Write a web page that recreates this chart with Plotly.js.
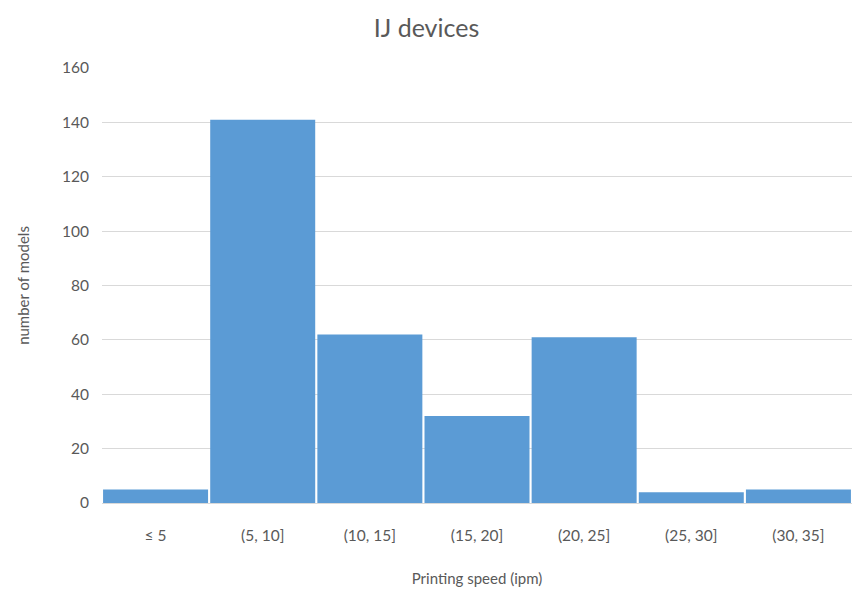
<!DOCTYPE html>
<html>
<head>
<meta charset="utf-8">
<script src="https://cdn.plot.ly/plotly-3.0.1.min.js"></script>
<style>
  html, body { margin: 0; padding: 0; background: #ffffff; }
  #chart { width: 853px; height: 592px; }
</style>
</head>
<body>
<div id="chart"></div>
<script>
// Printing speed bins (ipm) and number of inkjet models in each
const speedBins = ["≤ 5", "(5, 10]", "(10, 15]", "(15, 20]", "(20, 25]", "(25, 30]", "(30, 35]"];
const modelCounts = [5, 141, 62, 32, 61, 4, 5];
const yTickValues = [0, 20, 40, 60, 80, 100, 120, 140, 160];

const textGray = "#595959";
const fontFamily = "Lato, 'Open Sans', sans-serif";

const trace = {
  type: "bar",
  x: speedBins,
  y: modelCounts,
  marker: { color: "#5b9bd5", line: { width: 0 } },
  hoverinfo: "x+y"
};

const layout = {
  width: 853,
  height: 592,
  margin: { l: 102, r: 1, t: 68, b: 89 },
  paper_bgcolor: "#ffffff",
  plot_bgcolor: "#ffffff",
  bargap: 0.02,
  showlegend: false,
  title: {
    text: "IJ devices",
    font: { family: fontFamily, size: 25, color: textGray },
    x: 0.5, xanchor: "center",
    y: 0.952, yanchor: "middle"
  },
  xaxis: {
    type: "category",
    tickfont: { family: fontFamily, size: 15.5, color: textGray },
    showgrid: false,
    showline: true,
    linecolor: "#d9d9d9",
    linewidth: 1,
    ticks: "",
    ticklabelstandoff: 18,
    title: {
      text: "Printing speed (ipm)",
      font: { family: fontFamily, size: 15, color: textGray },
      standoff: 30
    }
  },
  yaxis: {
    range: [0, 160],
    tickvals: yTickValues,
    tickfont: { family: fontFamily, size: 15.5, color: textGray },
    showgrid: true,
    gridcolor: "#d9d9d9",
    gridwidth: 1,
    zeroline: false,
    showline: false,
    ticks: "",
    ticklabelstandoff: 12,
    title: {
      text: "number of models",
      font: { family: fontFamily, size: 15, color: textGray },
      standoff: 28
    }
  }
};

Plotly.newPlot("chart", [trace], layout, { displayModeBar: false, staticPlot: true });
</script>
</body>
</html>
